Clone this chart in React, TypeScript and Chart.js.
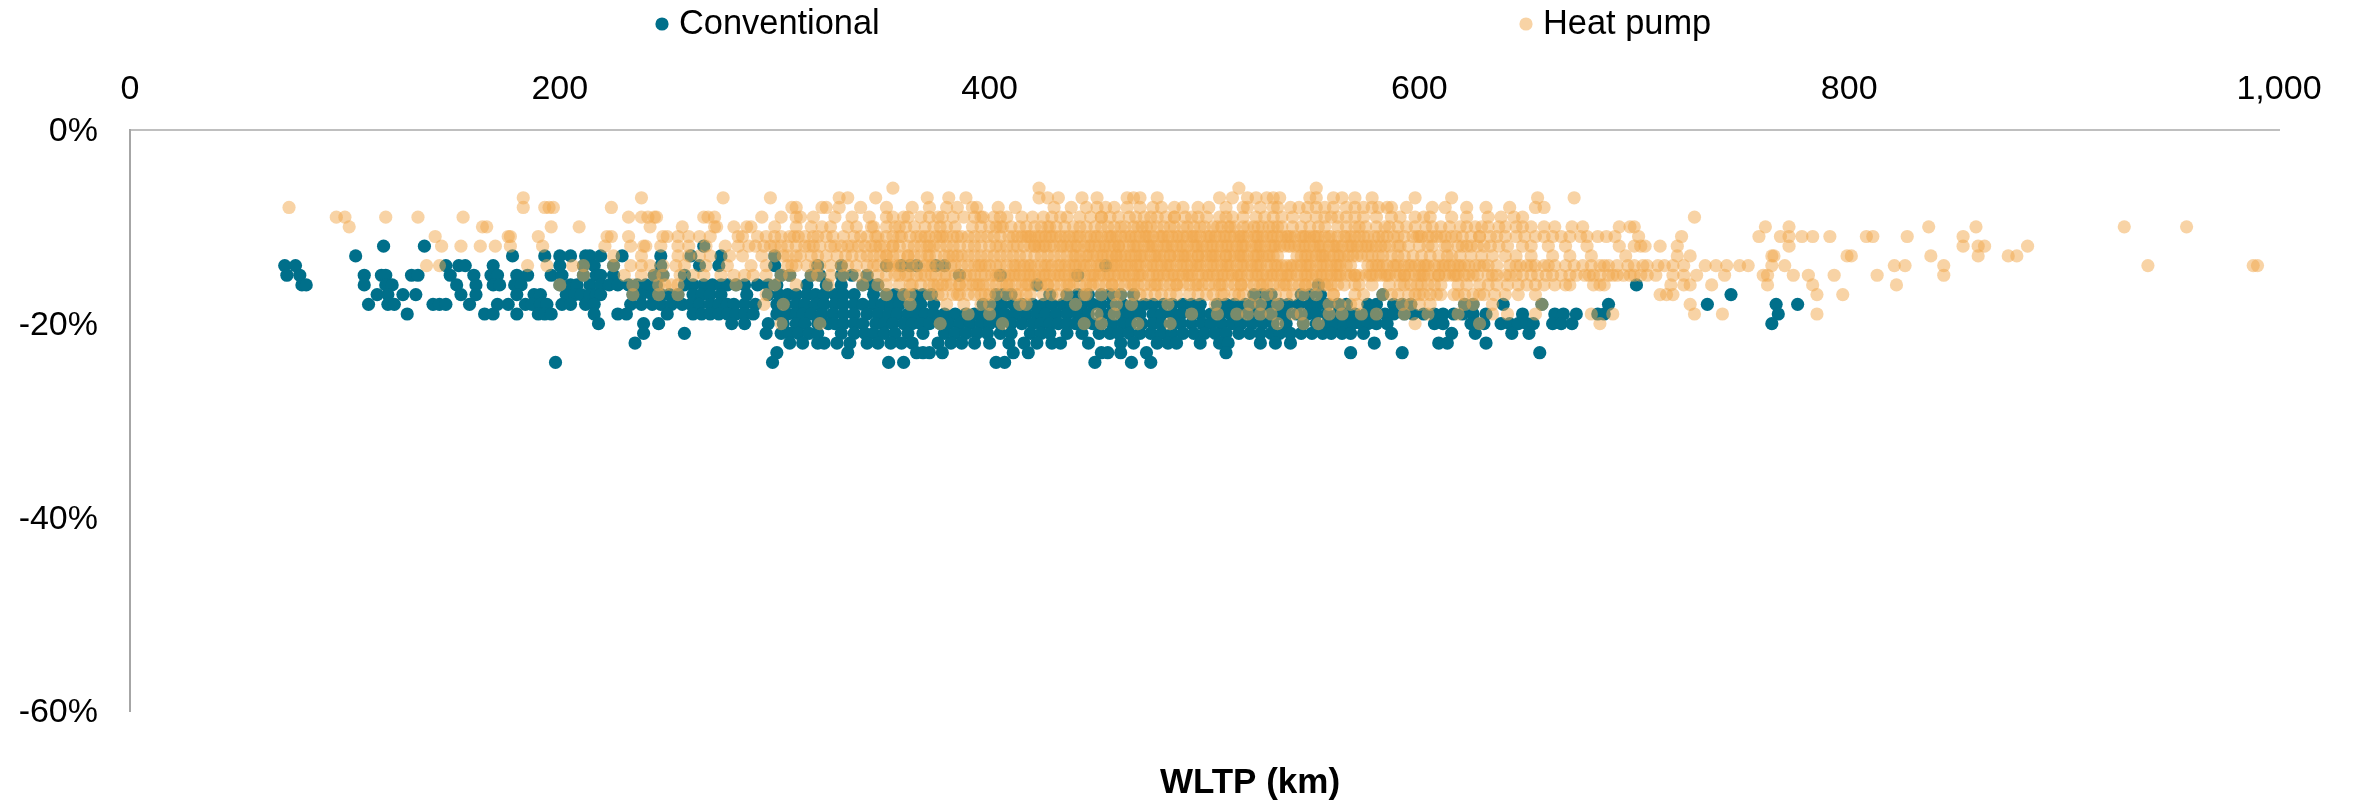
import React, { useEffect, useRef } from "react";
import { Chart, registerables } from "chart.js";

Chart.register(...registerables);

const FONT = '"Liberation Sans", Arial, sans-serif';
const CONVENTIONAL_LABEL = "Conventional";
const HEAT_PUMP_LABEL = "Heat pump";
const X_TITLE = "WLTP (km)";
const X_TICKS = [0, 200, 400, 600, 800, 1000];
const Y_TICKS = [0, -20, -40, -60];
const TEAL = "#006F8A";
const ORANGE = "rgba(242,168,75,0.5)";

// Conventional: WLTP range (km) by rounded range loss (%)
const conv12 = [118, 137, 267];
const conv13 = [105, 178, 193, 200, 205, 212, 214, 219, 229, 247, 261, 275, 300];
const conv14 = [72, 77, 147, 153, 156, 169, 200, 211, 216, 225, 247, 265, 274, 300, 320, 331, 352, 359, 363, 366, 375, 379, 454];
const conv15 = [73, 79, 109, 117, 119, 131, 134, 149, 160, 168, 171, 180, 185, 196, 201, 211, 217, 219, 225, 244, 248, 258, 303, 307, 317, 321, 331, 336, 343, 386, 405, 441];
const conv16 = [80, 82, 109, 119, 122, 152, 161, 169, 172, 179, 182, 200, 205, 208, 214, 219, 223, 227, 232, 236, 240, 245, 258, 262, 267, 271, 275, 278, 282, 286, 292, 297, 301, 315, 324, 331, 341, 345, 348, 422, 553, 701];
const conv17 = [115, 120, 127, 133, 154, 161, 180, 188, 191, 203, 207, 210, 214, 217, 219, 234, 238, 243, 247, 251, 255, 262, 266, 270, 275, 287, 297, 302, 306, 310, 315, 319, 323, 328, 332, 337, 346, 352, 356, 360, 365, 369, 373, 403, 406, 410, 428, 436, 441, 446, 452, 456, 461, 467, 523, 527, 531, 545, 549, 554, 583, 745];
const conv18 = [111, 120, 123, 141, 144, 147, 158, 171, 176, 184, 187, 191, 194, 201, 205, 212, 216, 233, 238, 243, 247, 252, 257, 261, 265, 270, 274, 278, 281, 286, 291, 301, 305, 310, 314, 319, 323, 328, 332, 337, 341, 346, 350, 354, 358, 363, 368, 374, 397, 402, 406, 411, 415, 420, 425, 429, 434, 438, 443, 448, 452, 457, 462, 467, 472, 476, 481, 485, 490, 494, 498, 506, 510, 514, 519, 523, 527, 531, 535, 539, 544, 549, 553, 557, 562, 566, 576, 580, 588, 592, 596, 621, 625, 639, 657, 688, 734, 766, 776];
const conv19 = [129, 165, 169, 180, 190, 193, 196, 216, 227, 231, 250, 262, 266, 270, 274, 278, 282, 286, 290, 301, 306, 310, 313, 317, 322, 327, 332, 337, 343, 348, 353, 357, 362, 366, 370, 374, 379, 384, 389, 393, 398, 403, 407, 412, 417, 422, 426, 431, 436, 441, 446, 452, 456, 461, 465, 470, 476, 480, 485, 489, 494, 498, 503, 507, 512, 516, 521, 526, 530, 535, 538, 543, 548, 552, 557, 562, 566, 570, 575, 579, 584, 588, 593, 597, 602, 607, 611, 616, 620, 625, 631, 648, 663, 667, 673, 683, 686, 767];
const conv20 = [218, 239, 246, 280, 286, 297, 304, 310, 314, 320, 325, 328, 332, 337, 341, 347, 351, 355, 360, 364, 368, 372, 377, 381, 386, 391, 396, 400, 405, 410, 415, 420, 424, 428, 432, 436, 440, 444, 448, 452, 457, 462, 466, 471, 476, 480, 485, 489, 494, 499, 503, 508, 513, 517, 522, 527, 532, 538, 546, 552, 557, 561, 565, 569, 573, 576, 580, 585, 607, 611, 624, 627, 630, 638, 642, 646, 650, 653, 662, 666, 671, 764];
const conv21 = [239, 258, 296, 303, 307, 311, 316, 320, 331, 337, 342, 346, 351, 356, 362, 369, 379, 384, 389, 394, 399, 405, 410, 419, 424, 428, 436, 443, 451, 456, 460, 465, 470, 475, 480, 485, 490, 495, 500, 505, 510, 516, 521, 526, 531, 535, 540, 545, 550, 555, 559, 564, 568, 574, 587, 615, 626, 643, 651];
const conv22 = [235, 307, 313, 320, 323, 329, 335, 343, 348, 354, 359, 364, 376, 382, 387, 393, 400, 409, 416, 422, 429, 433, 446, 461, 467, 478, 483, 487, 498, 507, 511, 526, 533, 540, 579, 609, 613, 631];
const conv23 = [301, 334, 366, 369, 372, 378, 411, 418, 452, 455, 461, 473, 510, 568, 592, 656];
const conv24 = [198, 299, 353, 360, 403, 407, 449, 466, 475];
const conventionalRows: [number, number[]][] = [
  [-12, conv12], [-13, conv13], [-14, conv14], [-15, conv15], [-16, conv16], [-17, conv17], [-18, conv18],
  [-19, conv19], [-20, conv20], [-21, conv21], [-22, conv22], [-23, conv23], [-24, conv24],
];

// Heat pump: WLTP range (km) by rounded range loss (%)
const heat6 = [355, 423, 516, 552];
const heat7 = [183, 238, 276, 298, 330, 334, 347, 371, 381, 389, 423, 427, 432, 443, 450, 464, 467, 470, 478, 507, 513, 520, 524, 529, 532, 535, 549, 552, 560, 564, 570, 578, 598, 615, 655, 672];
const heat8 = [74, 183, 193, 195, 197, 224, 308, 310, 322, 324, 340, 364, 380, 385, 394, 404, 438, 445, 450, 454, 464, 470, 480, 486, 490, 497, 510, 518, 520, 532, 540, 544, 548, 552, 556, 560, 566, 574, 581, 585, 587, 606, 631, 642, 654, 658];
const heat8b = [330, 352, 372, 392, 412, 430, 458, 476, 502, 526, 534, 570, 578, 594, 612, 622];
const heat9 = [96, 100, 119, 134, 155, 232, 238, 241, 244, 245, 267, 269, 272, 294, 303, 310, 312, 328, 336, 352, 360, 368, 376, 383, 393, 397, 402, 415, 429, 447, 452, 456, 465, 468, 472, 475, 482, 486, 491, 497, 501, 513, 528, 532, 541, 547, 559, 591, 598, 605, 615, 644, 648, 728];
const heat9b = [355, 372, 388, 408, 420, 436, 442, 460, 478, 494, 507, 518, 536, 552, 566, 574, 580];
const heat9c = [318, 344, 362, 378, 396, 405, 425, 433, 452, 486, 510, 524, 556, 562, 570, 587, 602, 622, 632, 638];
const heat10 = [102, 164, 166, 196, 209, 242, 257, 272, 273, 281, 287, 289, 317, 326, 334, 345, 346, 358, 365, 377, 380, 396, 400, 406, 421, 427, 431, 439, 452, 458, 463, 467, 471, 475, 481, 486, 490, 495, 500, 504, 508, 514, 518, 523, 527, 532, 545, 549, 553, 562, 575, 590, 610, 614, 619, 626, 629, 632, 637, 645, 648, 663, 671, 676, 693, 698, 700, 761, 772, 837, 859, 928, 957];
const heat10b = [352, 361, 370, 374, 384, 392, 403, 410, 417, 424, 435, 442, 449, 455, 461, 469, 478, 484, 492, 498, 506, 511, 520, 525, 530, 536, 541, 556, 566, 570, 580, 586, 594, 603];
const heat10c = [300, 310, 322, 338, 356, 405, 414, 428, 445, 473, 512, 534, 572, 584, 598, 606, 622, 640, 652, 658];
const heat11 = [142, 176, 177, 190, 222, 224, 232, 248, 250, 255, 260, 265, 270, 283, 296, 303, 307, 311, 318, 324, 332, 337, 343, 352, 359, 368, 372, 377, 383, 390, 396, 402, 411, 415, 419, 424, 428, 435, 439, 445, 450, 455, 459, 463, 468, 472, 476, 481, 485, 490, 494, 498, 503, 507, 512, 516, 520, 525, 529, 534, 538, 542, 547, 551, 556, 568, 572, 576, 581, 585, 590, 597, 601, 606, 610, 615, 624, 636, 649, 654, 662, 666, 670, 678, 683, 687, 691, 702, 722, 758, 768, 772, 778, 783, 791, 808, 811, 827, 853];
const heat11b = [309, 327, 347, 355, 363, 370, 375, 380, 387, 393, 399, 405, 409, 413, 417, 421, 426, 431, 437, 442, 447, 452, 457, 461, 466, 470, 474, 479, 483, 488, 492, 496, 501, 505, 510, 514, 518, 523, 527, 532, 536, 540, 545, 549, 553, 558, 562, 566, 570, 574, 579, 583, 588, 593, 599, 604, 608, 612, 617, 628, 633];
const heat11c = [418, 423, 429, 433, 441, 449, 456, 465, 473, 480, 487, 495, 502, 509, 517, 524, 531, 539, 546, 552, 559, 565];
const heat11d = [285, 292, 300, 314, 320, 340, 348, 358, 366, 378, 385, 600, 620, 628, 640, 645, 658, 675];
const heat12 = [145, 154, 163, 170, 177, 192, 221, 233, 239, 247, 255, 260, 277, 283, 291, 295, 300, 306, 310, 316, 321, 328, 334, 339, 345, 351, 355, 362, 368, 374, 380, 386, 393, 400, 405, 411, 416, 421, 425, 430, 436, 441, 447, 451, 456, 460, 465, 469, 474, 478, 483, 487, 492, 497, 501, 506, 510, 515, 519, 524, 528, 533, 537, 542, 546, 551, 555, 560, 564, 569, 573, 578, 582, 591, 613, 620, 627, 633, 641, 648, 693, 700, 703, 705, 712, 720, 772, 853, 860, 863, 883];
const heat12b = [303, 314, 331, 342, 349, 358, 365, 371, 377, 383, 390, 396, 403, 408, 413, 419, 423, 428, 433, 438, 444, 449, 454, 458, 462, 467, 472, 476, 481, 485, 490, 495, 499, 504, 508, 513, 517, 522, 526, 531, 535, 540, 544, 549, 553, 558, 562, 567, 571, 576, 580, 586, 595, 600, 606, 618, 624];
const heat12c = [421, 426, 434, 440, 446, 453, 460, 468, 475, 482, 489, 496, 503, 511, 518, 525, 532, 539, 547, 554, 561, 568, 575];
const heat12d = [240, 268, 288, 298, 318, 326, 336, 347, 355, 372, 584, 590, 604, 612, 622, 630, 637, 652, 660, 668, 678];
const heat13 = [225, 238, 255, 260, 270, 279, 300, 306, 310, 320, 324, 340, 346, 352, 358, 365, 371, 379, 383, 390, 396, 402, 408, 414, 421, 427, 433, 439, 445, 450, 455, 459, 463, 468, 472, 477, 481, 486, 490, 494, 499, 503, 507, 512, 516, 520, 525, 529, 534, 543, 547, 552, 556, 560, 565, 569, 573, 578, 583, 597, 609, 619, 624, 629, 645, 696, 720, 726, 764, 765, 799, 801, 838, 860, 874, 878];
const heat13b = [304, 317, 329, 343, 349, 355, 362, 368, 375, 381, 387, 393, 399, 405, 411, 417, 424, 430, 436, 442, 448, 453, 457, 461, 466, 470, 475, 479, 484, 488, 492, 497, 501, 505, 510, 514, 518, 523, 527, 532, 545, 550, 554, 558, 563, 567, 571, 576, 581, 590, 601, 615];
const heat13c = [440, 446, 452, 459, 465, 471, 478, 484, 491, 497, 504, 510, 517, 524, 530, 548, 555, 562];
const heat13d = [265, 285, 294, 312, 333, 336, 352, 362, 372, 385, 587, 593, 605, 613, 634, 640, 652, 662, 670, 680];
const heat14 = [138, 144, 185, 194, 206, 211, 233, 238, 242, 248, 254, 289, 306, 310, 315, 321, 331, 338, 343, 352, 355, 362, 367, 373, 379, 384, 390, 395, 400, 405, 411, 416, 421, 426, 432, 437, 442, 447, 452, 457, 461, 466, 470, 475, 480, 484, 489, 494, 498, 503, 508, 512, 517, 522, 526, 531, 536, 540, 545, 549, 554, 559, 563, 568, 576, 580, 585, 590, 595, 600, 604, 609, 614, 618, 623, 628, 632, 642, 647, 652, 658, 663, 668, 676, 680, 684, 688, 697, 704, 706, 711, 714, 723, 733, 738, 743, 749, 753, 764, 770, 821, 826, 844, 939, 988, 990];
const heat14b = [308, 319, 334, 346, 353, 358, 364, 370, 376, 382, 387, 393, 398, 403, 408, 414, 419, 424, 429, 435, 440, 445, 450, 455, 459, 464, 468, 473, 478, 482, 487, 492, 496, 501, 506, 510, 515, 520, 524, 529, 534, 538, 543, 547, 552, 557, 561, 566, 578, 583, 588, 593, 598, 602, 607, 612, 616, 621, 626, 630, 645, 650, 686];
const heat14c = [412, 418, 427, 433, 439, 444, 451, 458, 463, 469, 476, 483, 490, 497, 504, 511, 518, 525, 533, 541, 548, 555, 562, 581, 589, 596, 603, 611, 619];
const heat14d = [225, 258, 268, 278, 296, 326, 348, 358, 372, 396, 636, 654, 660, 672, 692, 700, 718];
const heat15 = [211, 230, 238, 244, 248, 256, 267, 281, 286, 290, 303, 307, 317, 320, 338, 343, 352, 356, 361, 366, 370, 375, 379, 384, 389, 393, 398, 403, 407, 412, 416, 421, 426, 430, 435, 439, 444, 449, 453, 458, 462, 467, 471, 476, 481, 485, 490, 494, 499, 504, 508, 513, 517, 522, 527, 531, 536, 540, 545, 550, 554, 559, 563, 568, 572, 577, 582, 586, 591, 595, 600, 604, 609, 614, 618, 623, 627, 632, 636, 640, 645, 655, 659, 666, 673, 677, 681, 684, 690, 695, 698, 703, 706, 710, 718, 723, 729, 742, 760, 762, 774, 781, 793, 813, 844];
const heat15b = [362, 368, 373, 380, 386, 391, 396, 401, 409, 414, 419, 423, 428, 433, 437, 442, 447, 451, 456, 460, 465, 469, 474, 479, 483, 488, 492, 497, 502, 506, 511, 515, 520, 525, 529, 534, 538, 543, 548, 552, 557, 561, 566, 570, 575, 580, 584, 589, 593, 598, 602, 607, 612, 616, 621, 625, 634, 642, 679, 692];
const heat15c = [404, 411, 418, 425, 432, 440, 448, 455, 463, 470, 478, 486, 493, 501, 509, 516, 524, 532, 539, 547, 555, 562, 570, 578, 585, 593, 601, 609, 617];
const heat15d = [262, 275, 296, 326, 332, 348, 358, 648, 652, 662, 670, 688, 700];
const heat16 = [200, 234, 246, 249, 252, 255, 282, 300, 310, 325, 341, 358, 363, 368, 374, 380, 386, 392, 397, 403, 409, 415, 421, 427, 433, 439, 445, 451, 457, 463, 469, 475, 481, 487, 493, 499, 505, 511, 517, 523, 529, 535, 541, 547, 553, 559, 565, 572, 591, 596, 601, 607, 618, 632, 641, 654, 658, 663, 670, 681, 684, 686, 717, 723, 726, 736, 762, 783, 822];
const heat16b = [376, 382, 389, 395, 400, 406, 412, 418, 424, 430, 436, 442, 448, 454, 460, 466, 472, 478, 484, 490, 496, 502, 508, 514, 520, 526, 532, 538, 544, 550, 556, 562, 570, 578, 586, 593, 599, 604];
const heat16c = [408, 417, 427, 437, 447, 457, 467, 477, 487, 497, 507, 517, 527, 537, 547, 557];
const heat16d = [348, 352, 364, 372, 378, 386, 394, 610, 622, 628, 636, 646, 650, 668];
const heat17 = [234, 246, 255, 296, 352, 360, 363, 372, 378, 383, 390, 396, 403, 413, 417, 425, 461, 467, 473, 480, 487, 497, 504, 514, 518, 529, 538, 546, 583, 590, 595, 600, 605, 610, 616, 621, 625, 630, 635, 654, 712, 715, 718, 785, 797];
const heat17b = [376, 386, 393, 400, 408, 419, 429, 436, 444, 452, 458, 470, 477, 484, 493, 501, 509, 523, 533, 541, 552, 560, 574, 587, 598, 608, 618, 628];
const heat17d = [385, 398, 412, 432, 445, 508, 516, 560, 570, 602, 640, 646];
const heat18 = [295, 304, 363, 380, 388, 396, 400, 414, 417, 440, 459, 466, 483, 505, 521, 526, 534, 558, 563, 568, 571, 592, 596, 600, 605, 621, 625, 634, 657, 726];
const heat19 = [390, 400, 450, 458, 494, 506, 515, 520, 526, 531, 541, 545, 558, 564, 573, 580, 593, 604, 618, 634, 641, 654, 680, 690, 728, 741, 785];
const heat20 = [303, 321, 377, 406, 444, 452, 469, 484, 534, 546, 553, 598, 628, 684];
const heatPumpRows: [number, number[]][] = [
  [-6, heat6], [-7, heat7], [-8, heat8], [-8, heat8b], [-9, heat9], [-9, heat9b], [-9, heat9c],
  [-10, heat10], [-10, heat10b], [-10, heat10c],
  [-11, heat11], [-11, heat11b], [-11, heat11c], [-11, heat11d],
  [-12, heat12], [-12, heat12b], [-12, heat12c], [-12, heat12d],
  [-13, heat13], [-13, heat13b], [-13, heat13c], [-13, heat13d],
  [-14, heat14], [-14, heat14b], [-14, heat14c], [-14, heat14d],
  [-15, heat15], [-15, heat15b], [-15, heat15c], [-15, heat15d],
  [-16, heat16], [-16, heat16b], [-16, heat16c], [-16, heat16d],
  [-17, heat17], [-17, heat17b], [-17, heat17d], [-18, heat18], [-19, heat19], [-20, heat20],
];

const toPoints = (rows: [number, number[]][]) =>
  rows.flatMap(([y, xs]) => xs.map((x) => ({ x, y })));

const canvasOverlay = {
  id: "canvasOverlay",
  afterDraw(chart: any) {
    const { ctx } = chart;
    ctx.save();
    ctx.textBaseline = "middle";
    ctx.textAlign = "left";
    ctx.font = `34.4px ${FONT}`;
    const items: [number, number, string, string][] = [
      [662, 679, TEAL, CONVENTIONAL_LABEL],
      [1526, 1543, ORANGE, HEAT_PUMP_LABEL],
    ];
    items.forEach(([mx, tx, color, text]) => {
      ctx.fillStyle = color;
      ctx.beginPath();
      ctx.arc(mx, 24, 6.6, 0, Math.PI * 2);
      ctx.fill();
      ctx.fillStyle = "#000";
      ctx.fillText(text, tx, 25);
    });
    ctx.font = `bold 35px ${FONT}`;
    ctx.textAlign = "center";
    ctx.fillText(X_TITLE, 1250, 783);
    ctx.restore();
  },
};

export default function App() {
  const ref = useRef<HTMLCanvasElement>(null);
  useEffect(() => {
    document.body.style.margin = "0";
    const chart = new Chart(ref.current!, {
      type: "scatter",
      data: {
        datasets: [
          {
            label: CONVENTIONAL_LABEL,
            data: toPoints(conventionalRows),
            backgroundColor: TEAL,
            pointRadius: 6.6,
            pointBorderWidth: 0,
            order: 2,
          },
          {
            label: HEAT_PUMP_LABEL,
            data: toPoints(heatPumpRows),
            backgroundColor: ORANGE,
            pointRadius: 6.6,
            pointBorderWidth: 0,
            order: 1,
          },
        ],
      },
      options: {
        responsive: false,
        animation: false,
        layout: { padding: { left: 0, top: 0, right: 75, bottom: 91 } },
        plugins: { legend: { display: false }, tooltip: { enabled: false }, title: { display: false } },
        scales: {
          x: {
            type: "linear",
            position: "top",
            min: 0,
            max: 1000,
            afterBuildTicks: (s: any) => { s.ticks = X_TICKS.map((value) => ({ value })); },
            afterFit: (s: any) => { s.height = 130; },
            grid: { display: false },
            border: { display: true, color: "#BFBFBF", width: 2 },
            ticks: {
              color: "#000",
              font: { family: FONT, size: 34 },
              padding: 12,
              maxRotation: 0,
              autoSkip: false,
              callback: (v: any) => Number(v).toLocaleString("en-US"),
            },
          },
          y: {
            type: "linear",
            min: -60,
            max: 0,
            afterBuildTicks: (s: any) => { s.ticks = Y_TICKS.map((value) => ({ value })); },
            afterFit: (s: any) => { s.width = 130; },
            grid: { display: false },
            border: { display: true, color: "#A6A6A6", width: 2 },
            ticks: {
              color: "#000",
              font: { family: FONT, size: 34 },
              padding: 24,
              labelOffset: 2,
              autoSkip: false,
              callback: (v: any) => `${v}%`,
            },
          },
        },
      },
      plugins: [canvasOverlay],
    } as any);
    return () => chart.destroy();
  }, []);
  return <canvas ref={ref} width={2354} height={802} style={{ display: "block" }} />;
}
